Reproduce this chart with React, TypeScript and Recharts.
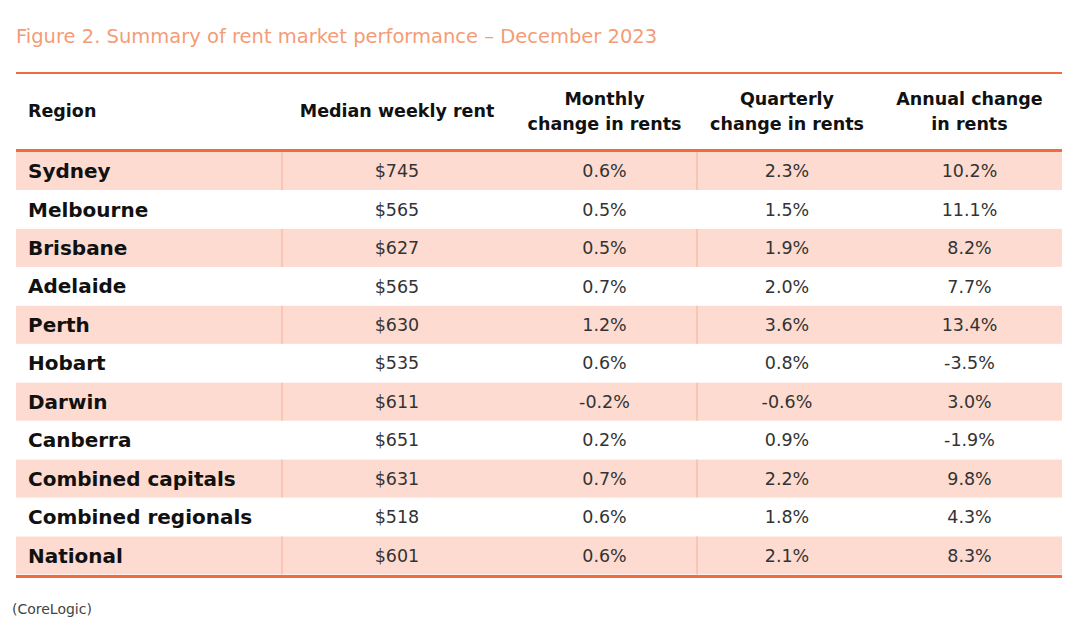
import React from "react";
import { BarChart, Bar, XAxis, YAxis, LabelList } from "recharts";

const regions = [
  "Sydney",
  "Melbourne",
  "Brisbane",
  "Adelaide",
  "Perth",
  "Hobart",
  "Darwin",
  "Canberra",
  "Combined capitals",
  "Combined regionals",
  "National",
];
const medianRent = [745, 565, 627, 565, 630, 535, 611, 651, 631, 518, 601];
const monthlyChange = [0.6, 0.5, 0.5, 0.7, 1.2, 0.6, -0.2, 0.2, 0.7, 0.6, 0.6];
const quarterlyChange = [2.3, 1.5, 1.9, 2.0, 3.6, 0.8, -0.6, 0.9, 2.2, 1.8, 2.1];
const annualChange = [10.2, 11.1, 8.2, 7.7, 13.4, -3.5, 3.0, -1.9, 9.8, 4.3, 8.3];
const headers = [
  ["Region"],
  ["Median weekly rent"],
  ["Monthly", "change in rents"],
  ["Quarterly", "change in rents"],
  ["Annual change", "in rents"],
];

const FONT = "'DejaVu Sans', sans-serif";
const ORANGE = "#f26a3f";
const PINK = "#fddbd0";
const SEP = "#f6bfae";
const colWidths = [266, 230, 185, 180, 185];
const tableWidth = colWidths.reduce((a, b) => a + b, 0);
const rowHeight = 38.45;

const pct = (v: number) => v.toFixed(1) + "%";

const rows = regions.map((region, i) => ({
  region,
  rentLabel: "$" + medianRent[i],
  monthlyLabel: pct(monthlyChange[i]),
  quarterlyLabel: pct(quarterlyChange[i]),
  annualLabel: pct(annualChange[i]),
  c0: colWidths[0],
  c1: colWidths[1],
  c2: colWidths[2],
  c3: colWidths[3],
  c4: colWidths[4],
}));

const cellShape = (withSep: boolean) => (props: any) => {
  const { x, y, width, height, index } = props;
  const shaded = index % 2 === 0;
  return (
    <g>
      {shaded && <rect x={x} y={y} width={width} height={height} fill={PINK} />}
      {shaded && withSep && (
        <line x1={x} x2={x} y1={y} y2={y + height} stroke={SEP} strokeWidth={1.5} />
      )}
    </g>
  );
};

const labelKeys = ["region", "rentLabel", "monthlyLabel", "quarterlyLabel", "annualLabel"];

export default function App() {
  return (
    <div
      style={{
        position: "absolute",
        left: 0,
        top: 0,
        width: 1080,
        height: 625,
        background: "#fff",
        fontFamily: FONT,
      }}
    >
      <div
        style={{
          position: "absolute",
          left: 16,
          top: 25,
          fontSize: 19.5,
          color: "#f49c76",
          whiteSpace: "nowrap",
        }}
      >
        Figure 2. Summary of rent market performance – December 2023
      </div>
      <div
        style={{
          position: "absolute",
          left: 16,
          top: 72,
          width: tableWidth,
          height: 2,
          background: ORANGE,
        }}
      />
      <div
        style={{
          position: "absolute",
          left: 16,
          top: 74,
          width: tableWidth,
          height: 75,
          display: "flex",
        }}
      >
        {headers.map((h, i) => (
          <div
            key={i}
            style={{
              width: colWidths[i],
              display: "flex",
              flexDirection: "column",
              justifyContent: "center",
              alignItems: i === 0 ? "flex-start" : "center",
              paddingLeft: i === 0 ? 12 : 0,
              boxSizing: "border-box",
              fontWeight: 700,
              fontSize: 17.5,
              lineHeight: "25px",
              color: "#111",
              whiteSpace: "nowrap",
            }}
          >
            {h.map((line, j) => (
              <div key={j}>{line}</div>
            ))}
          </div>
        ))}
      </div>
      <div
        style={{
          position: "absolute",
          left: 16,
          top: 149,
          width: tableWidth,
          height: 3,
          background: ORANGE,
        }}
      />
      <div style={{ position: "absolute", left: 16, top: 152 }}>
        <BarChart
          width={tableWidth}
          height={rowHeight * rows.length}
          data={rows}
          layout="vertical"
          margin={{ top: 0, right: 0, bottom: 0, left: 0 }}
          barCategoryGap={0}
        >
          <XAxis type="number" hide domain={[0, tableWidth]} />
          <YAxis type="category" dataKey="region" hide />
          {colWidths.map((_, i) => (
            <Bar
              key={i}
              dataKey={"c" + i}
              stackId="row"
              isAnimationActive={false}
              shape={cellShape(i === 1 || i === 3)}
            >
              <LabelList
                dataKey={labelKeys[i]}
                position={i === 0 ? "insideLeft" : "center"}
                offset={12}
                fill={i === 0 ? "#111" : "#333"}
                fontSize={i === 0 ? 20 : 17.5}
                fontWeight={i === 0 ? 700 : 400}
                fontFamily={FONT}
              />
            </Bar>
          ))}
        </BarChart>
      </div>
      <div
        style={{
          position: "absolute",
          left: 16,
          top: 575,
          width: tableWidth,
          height: 3,
          background: ORANGE,
        }}
      />
      <div
        style={{
          position: "absolute",
          left: 12,
          top: 601,
          fontSize: 14,
          color: "#444",
        }}
      >
        (CoreLogic)
      </div>
    </div>
  );
}
